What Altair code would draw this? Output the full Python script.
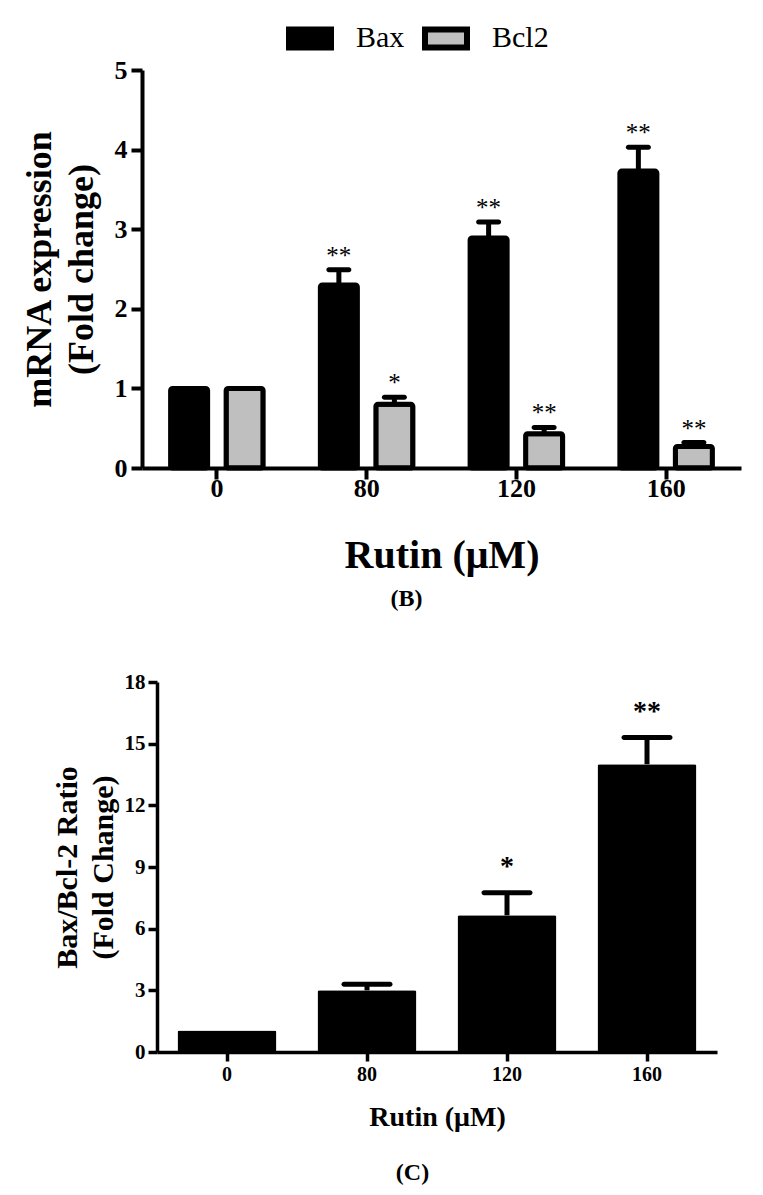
import altair as alt
import pandas as pd

FONT = "Liberation Serif"

# ---- data ----
doses = ["0", "80", "120", "160"]
genes = ["Bax", "Bcl2"]

bax_mean = [1.00, 2.30, 2.89, 3.73]
bax_sem = [0.00, 0.19, 0.20, 0.30]
bax_sig = ["", "**", "**", "**"]

bcl2_mean = [1.00, 0.80, 0.43, 0.27]
bcl2_sem = [0.00, 0.09, 0.08, 0.05]
bcl2_sig = ["", "*", "**", "**"]

ratio_mean = [1.05, 3.00, 6.65, 14.00]
ratio_sem = [0.00, 0.30, 1.10, 1.30]
ratio_sig = ["", "", "*", "**"]

ticks_b = [0, 1, 2, 3, 4, 5]
ticks_c = [0, 3, 6, 9, 12, 15, 18]

# ---- tables ----
rows = []
for g, means, sems, sigs in [("Bax", bax_mean, bax_sem, bax_sig),
                             ("Bcl2", bcl2_mean, bcl2_sem, bcl2_sig)]:
    for d, m, s, sg in zip(doses, means, sems, sigs):
        rows.append({"dose": d, "gene": g, "mean": m, "sem": s, "hi": m + s, "sig": sg})
df_b = pd.DataFrame(rows)
df_c = pd.DataFrame({"dose": doses, "mean": ratio_mean, "sem": ratio_sem,
                     "hi": [m + s for m, s in zip(ratio_mean, ratio_sem)], "sig": ratio_sig})

# ---- panel B ----
xB = alt.X("dose:N", sort=doses,
           scale=alt.Scale(paddingInner=0.382, paddingOuter=0.191),
           axis=alt.Axis(title="Rutin (μM)", labelAngle=0, labelFontSize=26, labelFontWeight="bold",
                         titleFontSize=40, titleFontWeight="bold", tickSize=11, tickWidth=4,
                         domainWidth=4, labelPadding=-4, titlePadding=34))
xoB = alt.XOffset("gene:N", sort=genes, scale=alt.Scale(paddingInner=0.333))
yB = alt.Y("mean:Q", scale=alt.Scale(domain=[0, 5]),
           axis=alt.Axis(values=ticks_b, format="d", title=["mRNA expression", "(Fold  change)"],
                         titleFontSize=36, titleFontWeight="bold", titleLineHeight=42,
                         labelFontSize=26, labelFontWeight="bold", tickSize=11, tickWidth=4,
                         domainWidth=4, labelPadding=4, titlePadding=14, grid=False))

baseB = alt.Chart(df_b)
barsB = baseB.mark_bar(stroke="black", strokeWidth=5, cornerRadius=2).encode(
    x=xB, xOffset=xoB, y=yB,
    fill=alt.Fill("gene:N", sort=genes,
                  scale=alt.Scale(domain=genes, range=["#000000", "#bfbfbf"]),
                  legend=alt.Legend(title=None, orient="none", direction="horizontal",
                                    legendX=144, legendY=-56, padding=0,
                                    symbolType="M-1,-0.43H1V0.43H-1Z", symbolSize=1764,
                                    symbolStrokeColor="black", symbolStrokeWidth=6,
                                    labelFont=FONT, labelFontSize=30, labelColor="black",
                                    labelOffset=22, columnPadding=8)))
errB = baseB.transform_filter("datum.sem > 0")
rulesB = errB.mark_rule(color="black", strokeWidth=5).encode(
    x=xB, xOffset=xoB, y="mean:Q", y2="hi:Q")
capsB = errB.mark_tick(color="black", thickness=5, size=25, cornerRadius=2.5, opacity=1).encode(
    x=xB, xOffset=xoB, y="hi:Q")
starsB = errB.mark_text(font=FONT, fontSize=25, color="black", baseline="alphabetic", dy=-6).encode(
    x=xB, xOffset=xoB, y="hi:Q", text="sig:N")

panelB = alt.layer(barsB, rulesB, capsB, starsB).properties(
    width=599, height=398,
    title=alt.TitleParams("(B)", orient="bottom", font=FONT, fontSize=24, fontWeight="bold",
                          color="black", frame="group", anchor="middle", dx=-35, offset=12))

# ---- panel C ----
xC = alt.X("dose:N", sort=doses,
           scale=alt.Scale(range=[15, 575], paddingInner=0.293, paddingOuter=0.1465),
           axis=alt.Axis(title="Rutin (μM)", labelAngle=0, labelFontSize=20, labelFontWeight="bold",
                         titleFontSize=28, titleFontWeight="bold", tickSize=9, tickWidth=3.5,
                         domainWidth=3.5, labelPadding=3, titlePadding=19))
yC = alt.Y("mean:Q", scale=alt.Scale(domain=[0, 18]),
           axis=alt.Axis(values=ticks_c, format="d", title=["Bax/Bcl-2 Ratio", "(Fold Change)"],
                         titleFontSize=30, titleFontWeight="bold", titleLineHeight=36,
                         labelFontSize=21, labelFontWeight="bold", tickSize=9, tickWidth=3.5,
                         domainWidth=3.5, labelPadding=3, titlePadding=6, grid=False, offset=-15))

baseC = alt.Chart(df_c)
barsC = baseC.mark_bar(color="black", cornerRadius=2).encode(x=xC, y=yC)
errC = baseC.transform_filter("datum.sem > 0")
rulesC = errC.mark_rule(color="black", strokeWidth=5).encode(x=xC, y="mean:Q", y2="hi:Q")
capsC = errC.mark_tick(color="black", thickness=5, size=51, cornerRadius=2.5, opacity=1).encode(
    x=xC, y="hi:Q")
starsC = errC.mark_text(font=FONT, fontSize=28, fontWeight="bold", color="black",
                        baseline="alphabetic", dy=-18).encode(x=xC, y="hi:Q", text="sig:N")

panelC = alt.layer(barsC, rulesC, capsC, starsC).properties(
    width=575, height=370,
    title=alt.TitleParams("(C)", orient="bottom", font=FONT, fontSize=24, fontWeight="bold",
                          color="black", frame="group", anchor="middle", dx=-17, offset=30))

chart = alt.vconcat(panelB, panelC, spacing=214, bounds="flush").properties(
    padding={"left": 13, "top": 6, "right": 5, "bottom": 5}
).configure_view(stroke=None).configure_axis(
    labelFont=FONT, titleFont=FONT, labelColor="black", titleColor="black",
    domainColor="black", tickColor="black"
)

chart.save("out.html", embed_options={"renderer": "svg", "actions": False})
